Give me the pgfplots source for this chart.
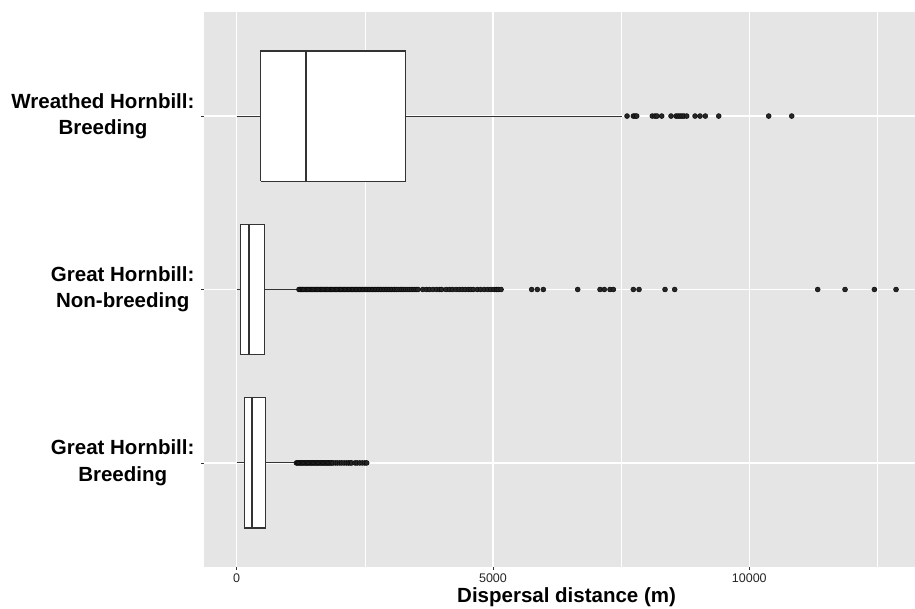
\documentclass[border=0pt]{standalone}
\usepackage{pgfplots}
\pgfplotsset{compat=1.18}
\usepackage{fontspec}
\setmainfont{Liberation Sans}
\definecolor{panel}{HTML}{E5E5E5}
\definecolor{ink}{HTML}{333333}
\begin{document}
\begin{tikzpicture}
\useasboundingbox (0,0) rectangle (915pt,609pt);
\begin{axis}[
  at={(204pt,42pt)}, anchor=south west,
  width=711pt, height=555pt, scale only axis,
  xmin=-638, xmax=13233, ymin=0.4, ymax=3.6,
  axis background/.style={fill=panel},
  axis x line*=bottom, axis y line*=left,
  axis line style={draw=none},
  xtick={0,5000,10000}, minor xtick={2500,7500,12500},
  ytick={1,2,3},
  yticklabels={{Great Hornbill:\\Breeding},{Great Hornbill:\\Non-breeding},{Wreathed Hornbill:\\Breeding}},
  grid=both,
  major grid style={white, line width=1.2pt},
  minor grid style={white, line width=0.6pt},
  tick align=outside,
  major tick length=3pt, minor tick length=0pt,
  tick style={ink, line width=0.6pt},
  scaled x ticks=false,
  /pgf/number format/assume math mode=true,
  /pgf/number format/1000 sep={},
  xticklabel style={font=\fontsize{12.5}{14}\selectfont, text=black!85},
  yticklabel style={align=center, font=\bfseries\fontsize{20.5}{26.5}\selectfont, xshift=-3pt},
  xlabel={Dispersal distance (m)},
  xlabel style={at={(rel axis cs:0.51,0)}, anchor=north, yshift=-17pt, font=\bfseries\fontsize{20.5}{24}\selectfont},
]
% ---------- Wreathed Hornbill: Breeding (y=3)
\addplot[ink, line width=1.1pt] coordinates {(5,3) (468,3)};
\addplot[ink, line width=1.1pt] coordinates {(3297,3) (7512,3)};
\addplot[ink, line width=1.1pt, fill=white] coordinates {(468,2.625) (3297,2.625) (3297,3.375) (468,3.375) (468,2.625)};
\addplot[ink, line width=2.2pt] coordinates {(1352,2.625) (1352,3.375)};
\addplot[only marks, mark=*, mark size=2.5pt, mark options={fill=black!85, draw=none}] coordinates {
(7615,3)(7738,3)(7771,3)(7804,3)(8108,3)(8161,3)(8200,3)(8292,3)(8473,3)(8571,3)(8610,3)(8649,3)(8688,3)(8727,3)(8780,3)(8942,3)(9039,3)(9143,3)(9404,3)(10379,3)(10828,3)};
% ---------- Great Hornbill: Non-breeding (y=2)
\addplot[ink, line width=1.1pt] coordinates {(5,2) (78,2)};
\addplot[ink, line width=1.1pt] coordinates {(538,2) (1205,2)};
\addplot[ink, line width=1.1pt, fill=white] coordinates {(78,1.625) (538,1.625) (538,2.375) (78,2.375) (78,1.625)};
\addplot[ink, line width=2.2pt] coordinates {(246,1.625) (246,2.375)};
\addplot[only marks, mark=*, mark size=2.5pt, mark options={fill=black!85, draw=none}] coordinates {
(1215,2)(1240,2)(1262,2)(1288,2)(1310,2)(1335,2)(1361,2)(1384,2)(1410,2)(1433,2)(1459,2)(1482,2)(1508,2)(1531,2)(1557,2)(1580,2)(1606,2)(1630,2)(1655,2)(1679,2)(1704,2)(1728,2)(1753,2)(1777,2)(1802,2)(1826,2)(1851,2)(1875,2)(1900,2)(1925,2)(1950,2)(1976,2)(2001,2)(2027,2)(2052,2)(2078,2)(2104,2)(2130,2)(2156,2)(2182,2)(2208,2)(2235,2)(2261,2)(2288,2)(2315,2)(2342,2)(2369,2)(2397,2)(2424,2)(2452,2)(2480,2)(2508,2)(2537,2)(2565,2)(2594,2)(2623,2)(2652,2)(2682,2)(2711,2)(2741,2)(2771,2)(2801,2)(2832,2)(2862,2)(2893,2)(2924,2)(2956,2)(2987,2)(3019,2)(3051,2)(3083,2)(3116,2)(3148,2)
(3190,2)(3225,2)(3260,2)(3300,2)(3340,2)(3380,2)(3420,2)(3460,2)(3500,2)(3537,2)
(3630,2)(3700,2)(3760,2)(3830,2)(3900,2)(3960,2)(4000,2)
(4084,2)(4150,2)(4210,2)(4280,2)(4340,2)(4400,2)(4460,2)(4520,2)(4570,2)(4616,2)
(4694,2)(4760,2)(4830,2)(4900,2)(4960,2)(5020,2)(5070,2)(5104,2)(5157,2)
(5755,2)(5865,2)(5982,2)(6653,2)(7088,2)(7172,2)(7283,2)(7348,2)(7738,2)(7849,2)(8356,2)(8545,2)
(11335,2)(11868,2)(12440,2)(12863,2)};
% ---------- Great Hornbill: Breeding (y=1)
\addplot[ink, line width=1.1pt] coordinates {(5,1) (148,1)};
\addplot[ink, line width=1.1pt] coordinates {(566,1) (1140,1)};
\addplot[ink, line width=1.1pt, fill=white] coordinates {(148,0.625) (566,0.625) (566,1.375) (148,1.375) (148,0.625)};
\addplot[ink, line width=2.2pt] coordinates {(299,0.625) (299,1.375)};
\addplot[only marks, mark=*, mark size=2.5pt, mark options={fill=black!85, draw=none}] coordinates {
(1165,1)(1190,1)(1214,1)(1239,1)(1263,1)(1288,1)(1312,1)(1337,1)(1361,1)(1386,1)(1410,1)(1435,1)(1459,1)(1484,1)(1508,1)(1533,1)(1557,1)(1582,1)(1606,1)(1631,1)(1655,1)(1680,1)(1704,1)(1729,1)(1753,1)(1778,1)(1802,1)(1827,1)(1853,1)
(1880,1)(1925,1)(1965,1)(2010,1)(2050,1)(2095,1)(2140,1)(2180,1)(2215,1)(2244,1)
(2310,1)(2350,1)(2400,1)(2450,1)(2500,1)(2536,1)};
\end{axis}
\end{tikzpicture}
\end{document}
